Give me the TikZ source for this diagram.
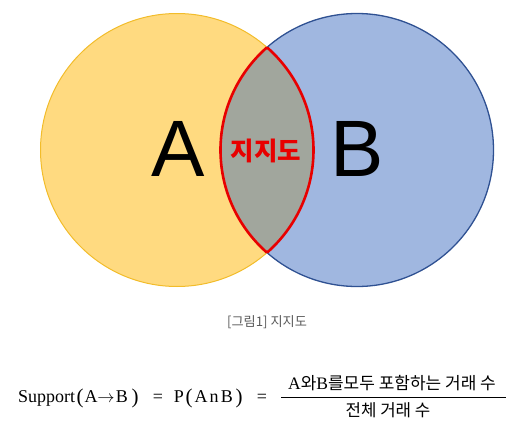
\documentclass[tikz,border=0pt]{standalone}
\usepackage{fontspec}
\setmainfont{Liberation Serif}
\newfontfamily\sansfam{Liberation Sans}
\newfontfamily\krfam{Noto Sans CJK KR}
\definecolor{yfill}{HTML}{FFDA80}
\definecolor{yedge}{HTML}{F2BC2A}
\definecolor{bfill}{HTML}{A0B7E0}
\definecolor{bedge}{HTML}{2F5192}
\definecolor{lensgray}{HTML}{A1A69D}
\definecolor{lensred}{RGB}{232,0,0}
\definecolor{capgray}{HTML}{5A5A5A}
\tikzset{
  bigletter/.style={font=\sansfam\fontsize{80}{80}\selectfont, inner sep=0pt},
  redlabel/.style={font=\krfam\bfseries\fontsize{25.5}{25.5}\selectfont, text=lensred, inner sep=0pt},
  captext/.style={font=\krfam\fontsize{13.2}{13.2}\selectfont, text=capgray, inner sep=0pt},
  fx/.style={font=\fontsize{18}{18}\selectfont, inner sep=0pt, anchor=base},
  fxp/.style={font=\fontsize{21}{21}\selectfont, inner sep=0pt, anchor=base},
  redline/.style={draw=lensred, line width=2.6pt},
}
\begin{document}
\begin{tikzpicture}[x=1pt,y=-1pt]
\useasboundingbox (0,0) rectangle (531,439);
\coordinate (ca) at (177,150);
\coordinate (cb) at (357,150);
% circles
\filldraw[fill=yfill, draw=yedge, line width=1pt] (ca) circle[radius=136.5pt];
\filldraw[fill=bfill, draw=bedge, line width=1.3pt] (cb) circle[radius=136.5pt];
% lens
\begin{scope}
  \clip (ca) circle[radius=136.5pt];
  \fill[lensgray] (cb) circle[radius=136.5pt];
  \draw[redline] (cb) circle[radius=136.5pt];
\end{scope}
\begin{scope}
  \clip (cb) circle[radius=136.5pt];
  \draw[redline] (ca) circle[radius=136.5pt];
\end{scope}
% labels
\node[bigletter] (la) at (178,149) {A};
\node[bigletter] (lb) at (357,149) {B};
\node[redlabel] (lab) at (266,151) {지지도};
\node[captext] (cap) at (267,322) {[그림1] 지지도};
% formula
\node[fx, anchor=base west] (f1) at (18,402) {Support};
\node[fxp] (p1) at (80,403) {(};
\node[fx] (f2) at (91,402) {A};
\node[fx] (f3) at (106,402) {$\rightarrow$};
\node[fx] (f4) at (122,402) {B};
\node[fxp] (p2) at (135,403) {)};
\node[fx] (e1) at (158,402) {=};
\node[fx] (f5) at (179,402) {P};
\node[fxp] (p3) at (189,403) {(};
\node[fx] (f6) at (201,402) {A};
\node[fx] (f7) at (214,402) {n};
\node[fx] (f8) at (227,402) {B};
\node[fxp] (p4) at (239,403) {)};
\node[fx] (e2) at (262,402) {=};
\coordinate (bl) at (281,397);
\coordinate (br) at (506,397);
\draw[line width=0.8pt] (bl) -- (br);
\node[fx, font=\fontsize{17.5}{17.5}\selectfont] (num) at (392,389) {A{\krfam\fontsize{17}{17}\selectfont 와}B{\krfam\fontsize{17}{17}\selectfont 를모두 포함하는 거래 수}};
\node[fx, font=\krfam\fontsize{16.8}{16.8}\selectfont] (den) at (388,416) {전체 거래 수};
\end{tikzpicture}
\end{document}
